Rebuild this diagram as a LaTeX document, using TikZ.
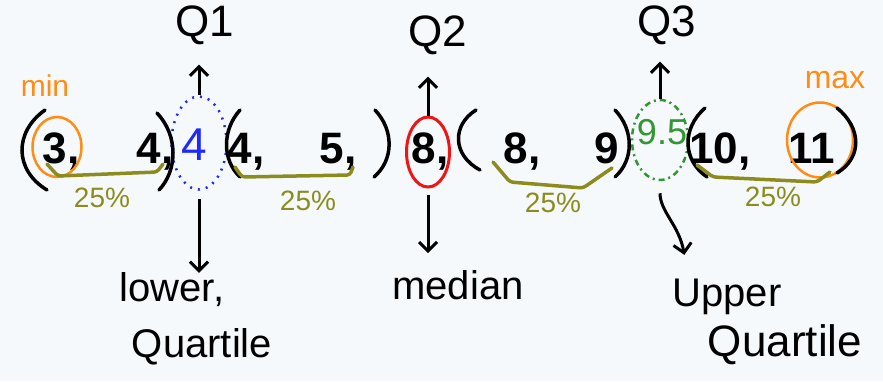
\documentclass[tikz,border=0pt]{standalone}
\usepackage{fontspec}
\setmainfont{Liberation Sans}
\usetikzlibrary{shapes.geometric,arrows.meta}

\definecolor{paper}{RGB}{246,249,251}
\definecolor{markorange}{RGB}{255,140,20}
\definecolor{qblue}{RGB}{30,40,255}
\definecolor{medred}{RGB}{240,20,20}
\definecolor{qgreen}{RGB}{50,150,50}
\definecolor{pctolive}{RGB}{140,140,30}

\begin{document}
\begin{tikzpicture}[
            x=1pt, y=-1pt,
            num/.style={
                anchor=base,
                inner sep=0pt,
                font=\fontsize{44}{44}\selectfont\bfseries
            },
            hand/.style={
                inner sep=0pt,
                font=\fontsize{40}{40}\selectfont
            },
            pct/.style={
                inner sep=0pt,
                text=pctolive,
                font=\fontsize{28}{28}\selectfont
            },
            ring/.style={
                draw=#1,
                ellipse,
                line width=2.5pt,
                inner sep=0pt
            },
            paren/.style={
                line width=3.5pt,
                line cap=round
            },
            brace/.style={
                draw=pctolive,
                line width=3.5pt,
                line cap=round,
                line join=round,
                rounded corners=3pt
            },
            arr/.style={
                line width=3pt,
                -{Straight Barb[length=9pt,width=18pt,line width=3pt]}
            }
        ]
            \fill[paper] (0,0) rectangle (883,381);
            \useasboundingbox (0,0) rectangle (883,381);

            % the sorted values
            \node[num] (n3) at (61,163) {3,};
            \node[num] (n4a) at (155,163) {4,};
            \node[hand, text=qblue, font=\fontsize{46}{46}\selectfont] (lowq) at (194,145) {4};
            \node[num] (n4b) at (246,163) {4,};
            \node[num] (n5) at (338,163) {5,};
            \node[num] (med) at (430,163) {8,};
            \node[num] (n8) at (522,163) {8,};
            \node[num] (n9) at (607,163) {9};
            \node[hand, text=qgreen, font=\fontsize{36}{36}\selectfont] (uppq) at (662,132) {9.5};
            \node[num] (n10) at (720,163) {10,};
            \node[num] (n11) at (812,163) {11};

            % rings
            \node[ring=markorange, minimum width=49pt, minimum height=60pt] (ringmin) at (57,147) {};
            \node[ring=qblue, dash pattern=on 2pt off 6pt, minimum width=55pt, minimum height=93pt] (ringq1) at (199,143) {};
            \node[ring=medred, line width=3pt, minimum width=43pt, minimum height=70pt] (ringmed) at (428,152) {};
            \node[ring=qgreen, dash pattern=on 6pt off 4pt on 2pt off 4pt, minimum width=56pt, minimum height=80pt] (ringq3) at (660,140) {};
            \node[ring=markorange, minimum width=66pt, minimum height=75pt] (ringmax) at (820,140) {};

            % brackets
            \draw[paren] (45,110) .. controls (14,132) and (14,170) .. (47,190);
            \draw[paren] (157,113) .. controls (178,135) and (178,170) .. (159,190);
            \draw[paren] (240,110) .. controls (222,130) and (222,160) .. (240,177);
            \draw[paren] (375,110) .. controls (394,130) and (394,160) .. (374,177);
            \draw[paren] (476,110) .. controls (452,125) and (452,155) .. (480,170);
            \draw[paren] (615,110) .. controls (634,130) and (634,160) .. (615,177);
            \draw[paren] (705,108) .. controls (682,128) and (682,160) .. (707,177);
            \draw[paren] (837,108) .. controls (862,128) and (862,158) .. (837,173);

            % quarters
            \draw[brace] (47,164) -- (58,176) -- (157,172) -- (163,164);
            \draw[brace] (235,167) -- (242,177) -- (350,175) -- (353,167);
            \draw[brace] (493,162) -- (510,182) -- (583,188) -- (612,168);
            \draw[brace] (697,165) -- (713,177) -- (817,182) -- (830,172);
            \node[pct] (pa) at (102,198) {25\%};
            \node[pct] (pb) at (308,201) {25\%};
            \node[pct] (pc) at (553,203) {25\%};
            \node[pct] (pd) at (773,197) {25\%};

            % labels
            \node[hand, text=markorange, font=\fontsize{30}{30}\selectfont] (minlbl) at (45,86) {min};
            \node[hand, text=markorange, font=\fontsize{32}{32}\selectfont] (maxlbl) at (835,80) {max};
            \node[hand, font=\fontsize{44}{44}\selectfont] (qa) at (205,25) {Q1};
            \node[hand, font=\fontsize{44}{44}\selectfont] (qb) at (438,35) {Q2};
            \node[hand, font=\fontsize{44}{44}\selectfont] (qc) at (667,25) {Q3};
            \node[hand] (lowerlbl) at (172,290) {lower,};
            \node[hand] (quarta) at (202,347) {Quartile};
            \node[hand] (medlbl) at (458,285) {median};
            \node[hand] (upperlbl) at (727,297) {Upper};
            \node[hand, font=\fontsize{44}{44}\selectfont] (quartb) at (785,345) {Quartile};
            \coordinate (uptip) at ([xshift=12pt,yshift=24pt]upperlbl.north west);

            % arrows
            \draw[arr, shorten >=20pt] (ringq1.north) -- (ringq1.north |- qa.south);
            \draw[arr, shorten >=22pt] (ringmed.north) -- (ringmed.north |- qb.south);
            \draw[arr, shorten >=17pt] (ringq3.north) -- (ringq3.north |- qc.south);
            \draw[arr, shorten <=8pt] (ringq1.south) -- (ringq1.south |- lowerlbl.north);
            \draw[arr, shorten <=6pt, shorten >=17pt] (ringmed.south) -- (ringmed.south |- medlbl.north);
            \draw[arr, shorten <=12pt] (ringq3.south) to[out=-90, in=100] (uptip);
        \end{tikzpicture}
\end{document}
